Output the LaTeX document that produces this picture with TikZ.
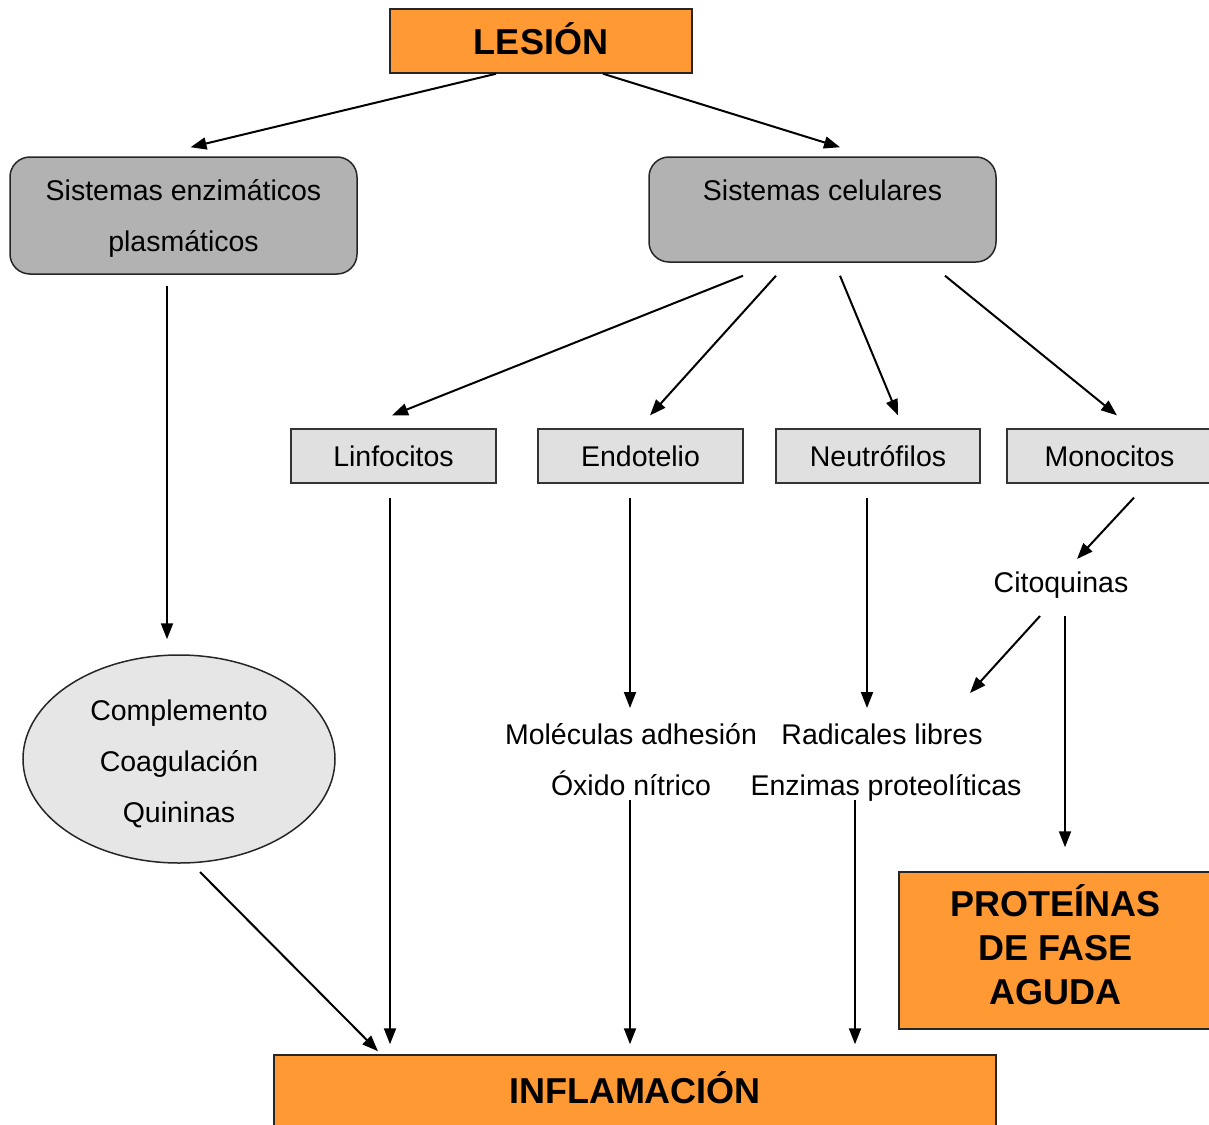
\documentclass[tikz,border=0pt]{standalone}
\usepackage{fontspec}
\setmainfont{Liberation Sans}
\usetikzlibrary{arrows.meta,calc,shapes.geometric}
\definecolor{orng}{RGB}{255,153,51}
\definecolor{midgrey}{RGB}{178,178,178}
\definecolor{ltgrey}{RGB}{224,224,224}
\definecolor{elgrey}{RGB}{230,230,230}
\begin{document}
\begin{tikzpicture}[x=1pt,y=-1pt,
  txt/.style={inner sep=0pt,font=\fontsize{28.5}{51}\selectfont,align=center},
  orangebox/.style={draw=black!85,line width=1.5pt,fill=orng,inner sep=0pt,font=\fontsize{36}{44}\selectfont\bfseries,align=center},
  greybox/.style={draw=black!85,line width=1.5pt,fill=midgrey,rounded corners=20pt,inner sep=0pt,minimum width=347pt},
  cellbox/.style={draw=black!80,line width=1.2pt,fill=ltgrey,inner sep=0pt,minimum width=205pt,minimum height=54pt,font=\fontsize{28.5}{51}\selectfont},
  arr/.style={line width=2pt,-{Triangle[length=16pt,width=12pt]}}]
\useasboundingbox (0,0) rectangle (1209,1124);
% boxes
\node[orangebox,minimum width=302pt,minimum height=64pt] (lesion) at (541,41) {};
\node[inner sep=0pt,font=\fontsize{36}{44}\selectfont\bfseries] (lesiont) at (541,39) {LESIÓN};
\node[greybox,minimum height=117pt] (enz) at (183.5,215.5) {};
\node[txt] (enzt) at (183.5,218.5) {Sistemas enzimáticos\\plasmáticos};
\node[greybox,minimum height=105pt] (cel) at (822.5,209.5) {};
\node[txt] (celt) at (822.5,190) {Sistemas celulares};
\node[cellbox] (linf) at (393.5,456) {Linfocitos};
\node[cellbox] (endo) at (640.5,456) {Endotelio};
\node[cellbox,minimum width=204pt] (neut) at (878,456) {Neutrófilos};
\node[cellbox] (mono) at (1109.5,456) {Monocitos};
\node[ellipse,draw=black!85,line width=1.5pt,fill=elgrey,minimum width=312pt,minimum height=208pt,inner sep=0pt] (ell) at (179,759) {};
\node[txt] (ellt) at (179,764) {Complemento\\Coagulación\\Quininas};
\node[txt] (cito) at (1061,585) {Citoquinas};
\node[txt] (mol) at (631,734) {Moléculas adhesión};
\node[txt] (oxi) at (631,783) {Óxido nítrico};
\node[txt] (rad) at (882,734) {Radicales libres};
\node[txt] (enzp) at (886,788) {Enzimas proteolíticas};
\node[orangebox,minimum width=313pt,minimum height=157pt] (prot) at (1055.5,950.5) {};
\node[inner sep=0pt,font=\fontsize{36}{44}\selectfont\bfseries,align=center] (prott) at (1055.5,945) {PROTEÍNAS\\DE FASE\\AGUDA};
\node[orangebox,minimum width=722pt,minimum height=74pt] (infl) at (635,1092) {};
\node[inner sep=0pt,font=\fontsize{36}{44}\selectfont\bfseries] (inflt) at (635,1088) {INFLAMACIÓN};
% connectors
\draw[arr] ($(lesion.south)+(-45,0)$) -- ($(enz.north)+(7,-9)$);
\draw[arr] ($(lesion.south)+(62,0)$) -- ($(cel.north)+(17.5,-9)$);
\draw[arr] ($(enz.south)+(-16.5,11)$) -- ($(ell.north)+(-12,-15)$);
\draw[arr] ($(cel.south)+(-79.5,13)$) -- ($(linf.north)+(-1.5,-13)$);
\draw[arr] ($(cel.south)+(-46.5,13)$) -- ($(endo.north)+(9.5,-13)$);
\draw[arr] ($(cel.south)+(17.5,13)$) -- ($(neut.north)+(20,-13)$);
\draw[arr] ($(cel.south)+(122.5,13)$) -- ($(mono.north)+(7.5,-13)$);
\draw[arr] ($(linf.south)+(-3.5,14)$) -- ($(infl.north)+(-245,-10)$);
\draw[arr] ($(endo.south)+(-10.5,14)$) -- ($(mol)+(-1,-26)$);
\draw[arr] ($(neut.south)+(-11,14)$) -- ($(rad)+(-15,-26)$);
\draw[arr] ($(mono.south)+(24.5,14)$) -- ($(cito)+(16,-26)$);
\draw[arr] ($(cito)+(-21,31)$) -- ($(rad)+(88,-41)$);
\draw[arr] ($(cito)+(4,31)$) -- ($(prot.north)+(9.5,-24)$);
\draw[arr] ($(oxi)+(-1,17)$) -- ($(infl.north)+(-5,-10)$);
\draw[arr] ($(enzp)+(-31,12)$) -- ($(infl.north)+(220,-10)$);
\draw[arr] ($(ell)+(21,113)$) -- ($(infl.north)+(-257,-3)$);
\end{tikzpicture}
\end{document}
